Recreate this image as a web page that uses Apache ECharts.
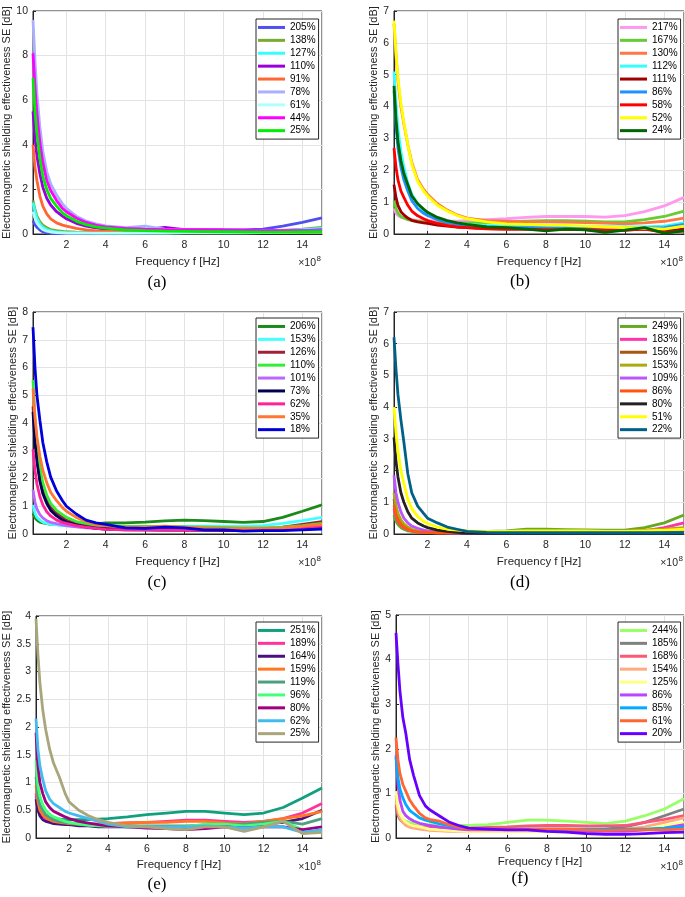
<!DOCTYPE html>
<html><head><meta charset="utf-8">
<script src="https://cdn.jsdelivr.net/npm/echarts@6/dist/echarts.min.js"></script>
<style>html,body{margin:0;padding:0;background:#fff}#c{width:685px;height:897px}</style>
</head><body><div id="c"></div><script>
// Frequency in units of 1e8 Hz
const freq = [0.3, 0.4, 0.5, 0.65, 0.8, 1.0, 1.2, 1.5, 1.8, 2.0, 2.5, 3.0, 3.5, 4, 5, 6, 7, 8, 9, 10, 11, 12, 13, 14, 15];

// (a)
const namesA = ['205%', '138%', '127%', '110%', '91%', '78%', '61%', '44%', '25%'];
const valsA = [
  [0.6, 0.42, 0.3, 0.18, 0.1, 0.05, 0.03, 0.02, 0.02, 0.02, 0.03, 0.04, 0.05, 0.06, 0.08, 0.12, 0.15, 0.18, 0.19, 0.2, 0.18, 0.22, 0.35, 0.52, 0.72],
  [1.5, 1.1, 0.8, 0.55, 0.4, 0.28, 0.2, 0.15, 0.12, 0.1, 0.08, 0.07, 0.06, 0.06, 0.06, 0.07, 0.08, 0.08, 0.09, 0.1, 0.1, 0.12, 0.16, 0.22, 0.3],
  [1.4, 1.0, 0.7, 0.45, 0.3, 0.2, 0.14, 0.1, 0.07, 0.06, 0.05, 0.05, 0.04, 0.04, 0.04, 0.05, 0.05, 0.06, 0.07, 0.08, 0.1, 0.12, 0.15, 0.2, 0.25],
  [5.5, 4.3, 3.5, 2.7, 2.1, 1.6, 1.3, 1.0, 0.8, 0.68, 0.48, 0.35, 0.28, 0.22, 0.2, 0.2, 0.3, 0.2, 0.18, 0.17, 0.15, 0.14, 0.14, 0.15, 0.18],
  [4.0, 3.0, 2.4, 1.7, 1.25, 0.9, 0.68, 0.5, 0.4, 0.35, 0.25, 0.18, 0.14, 0.12, 0.08, 0.07, 0.06, 0.06, 0.06, 0.06, 0.06, 0.06, 0.07, 0.08, 0.1],
  [9.6, 7.8, 6.3, 4.8, 3.7, 2.8, 2.25, 1.75, 1.35, 1.15, 0.8, 0.58, 0.45, 0.36, 0.28, 0.35, 0.22, 0.2, 0.2, 0.18, 0.16, 0.15, 0.15, 0.15, 0.15],
  [1.0, 0.7, 0.5, 0.32, 0.2, 0.13, 0.09, 0.06, 0.05, 0.04, 0.04, 0.04, 0.04, 0.04, 0.04, 0.04, 0.04, 0.05, 0.05, 0.05, 0.05, 0.06, 0.07, 0.08, 0.1],
  [8.1, 6.6, 5.4, 4.1, 3.2, 2.4, 1.95, 1.5, 1.15, 1.0, 0.72, 0.52, 0.4, 0.32, 0.25, 0.22, 0.2, 0.2, 0.2, 0.18, 0.17, 0.15, 0.15, 0.15, 0.15],
  [7.0, 5.5, 4.5, 3.4, 2.6, 2.0, 1.6, 1.25, 0.95, 0.82, 0.58, 0.42, 0.32, 0.26, 0.18, 0.15, 0.13, 0.12, 0.11, 0.1, 0.09, 0.08, 0.08, 0.09, 0.1]
];
const colorsA = ['#5050f0', '#77ac30', '#33ffff', '#9900dd', '#ff6633', '#aab0ff', '#b0ffff', '#ff00ff', '#00ee00'];

// (b)
const namesB = ['217%', '167%', '130%', '112%', '111%', '86%', '58%', '52%', '24%'];
const valsB = [
  [0.8, 0.65, 0.58, 0.52, 0.5, 0.47, 0.45, 0.43, 0.42, 0.42, 0.41, 0.4, 0.4, 0.42, 0.45, 0.48, 0.52, 0.55, 0.55, 0.55, 0.53, 0.58, 0.7, 0.88, 1.15],
  [1.05, 0.8, 0.65, 0.55, 0.5, 0.45, 0.42, 0.4, 0.38, 0.37, 0.35, 0.35, 0.35, 0.35, 0.36, 0.38, 0.4, 0.42, 0.42, 0.4, 0.38, 0.38, 0.45, 0.55, 0.72],
  [6.6, 5.6, 4.8, 4.0, 3.45, 2.8, 2.25, 1.7, 1.4, 1.25, 0.95, 0.75, 0.6, 0.5, 0.42, 0.4, 0.38, 0.38, 0.37, 0.36, 0.34, 0.32, 0.35, 0.4, 0.5],
  [5.1, 4.1, 3.3, 2.6, 2.1, 1.6, 1.25, 0.95, 0.75, 0.65, 0.5, 0.4, 0.33, 0.3, 0.27, 0.25, 0.24, 0.24, 0.24, 0.24, 0.23, 0.22, 0.22, 0.25, 0.35],
  [1.55, 1.15, 0.9, 0.7, 0.6, 0.5, 0.43, 0.38, 0.35, 0.33, 0.28, 0.25, 0.22, 0.2, 0.17, 0.15, 0.15, 0.15, 0.15, 0.14, 0.1, 0.12, 0.15, 0.1, 0.15],
  [4.5, 3.4, 2.7, 2.1, 1.7, 1.35, 1.05, 0.8, 0.65, 0.58, 0.45, 0.36, 0.3, 0.26, 0.22, 0.2, 0.2, 0.2, 0.2, 0.2, 0.18, 0.17, 0.18, 0.2, 0.3],
  [2.7, 2.1, 1.7, 1.35, 1.15, 0.9, 0.72, 0.57, 0.48, 0.42, 0.33, 0.27, 0.22, 0.2, 0.16, 0.15, 0.15, 0.14, 0.14, 0.14, 0.12, 0.12, 0.15, 0.05, 0.1],
  [6.7, 5.7, 4.9, 4.1, 3.5, 2.8, 2.2, 1.65, 1.35, 1.2, 0.9, 0.72, 0.58, 0.48, 0.38, 0.32, 0.3, 0.28, 0.27, 0.25, 0.22, 0.2, 0.18, 0.15, 0.25],
  [4.65, 3.6, 2.9, 2.3, 1.9, 1.55, 1.2, 0.95, 0.78, 0.68, 0.52, 0.42, 0.35, 0.3, 0.22, 0.2, 0.15, 0.1, 0.15, 0.13, 0.05, 0.12, 0.2, 0.03, 0.1]
];
const colorsB = ['#ff99ee', '#66cc33', '#ff7744', '#33ffff', '#a00000', '#1e90ff', '#ff0000', '#ffff00', '#006400'];

// (c)
const namesC = ['206%', '153%', '126%', '110%', '101%', '73%', '62%', '35%', '18%'];
const valsC = [
  [0.75, 0.58, 0.5, 0.43, 0.4, 0.37, 0.35, 0.34, 0.33, 0.33, 0.33, 0.34, 0.36, 0.4, 0.4, 0.43, 0.47, 0.5, 0.48, 0.45, 0.42, 0.45, 0.6, 0.82, 1.05],
  [1.05, 0.75, 0.6, 0.5, 0.43, 0.38, 0.35, 0.33, 0.3, 0.29, 0.27, 0.25, 0.25, 0.25, 0.24, 0.24, 0.25, 0.27, 0.28, 0.27, 0.27, 0.3, 0.38, 0.48, 0.6],
  [4.6, 3.5, 2.8, 2.0, 1.55, 1.2, 0.95, 0.75, 0.6, 0.5, 0.38, 0.3, 0.25, 0.22, 0.2, 0.2, 0.2, 0.18, 0.17, 0.16, 0.16, 0.18, 0.25, 0.35, 0.45],
  [5.55, 4.2, 3.3, 2.4, 1.85, 1.4, 1.1, 0.85, 0.7, 0.6, 0.45, 0.38, 0.32, 0.3, 0.28, 0.27, 0.27, 0.26, 0.25, 0.24, 0.22, 0.22, 0.25, 0.3, 0.38],
  [1.6, 1.15, 0.9, 0.7, 0.58, 0.48, 0.42, 0.37, 0.33, 0.3, 0.26, 0.22, 0.2, 0.18, 0.16, 0.15, 0.15, 0.15, 0.15, 0.15, 0.16, 0.18, 0.2, 0.25, 0.3],
  [4.4, 3.3, 2.6, 1.9, 1.45, 1.1, 0.85, 0.65, 0.5, 0.43, 0.33, 0.26, 0.2, 0.18, 0.15, 0.15, 0.14, 0.14, 0.13, 0.12, 0.12, 0.13, 0.15, 0.18, 0.22],
  [3.05, 2.3, 1.8, 1.35, 1.05, 0.8, 0.65, 0.5, 0.42, 0.38, 0.3, 0.25, 0.2, 0.17, 0.15, 0.15, 0.14, 0.14, 0.14, 0.14, 0.15, 0.15, 0.18, 0.22, 0.28],
  [5.25, 4.2, 3.5, 2.8, 2.3, 1.85, 1.5, 1.2, 0.95, 0.82, 0.6, 0.45, 0.35, 0.3, 0.25, 0.25, 0.28, 0.25, 0.22, 0.2, 0.2, 0.2, 0.22, 0.28, 0.35],
  [7.45, 6.0, 5.0, 4.1, 3.3, 2.6, 2.05, 1.55, 1.2, 1.0, 0.72, 0.5, 0.4, 0.35, 0.22, 0.2, 0.25, 0.22, 0.15, 0.15, 0.1, 0.12, 0.12, 0.15, 0.18]
];
const colorsC = ['#1a8a1a', '#44ffff', '#a0203a', '#33ee33', '#bb66ff', '#000055', '#ff2299', '#ff7733', '#0000dd'];

// (d)
const namesD = ['249%', '183%', '156%', '153%', '109%', '86%', '80%', '51%', '22%'];
const valsD = [
  [0.6, 0.4, 0.3, 0.2, 0.15, 0.1, 0.08, 0.06, 0.05, 0.05, 0.05, 0.05, 0.06, 0.08, 0.08, 0.1, 0.15, 0.15, 0.14, 0.13, 0.12, 0.12, 0.2, 0.35, 0.6],
  [0.8, 0.55, 0.4, 0.28, 0.2, 0.14, 0.1, 0.07, 0.05, 0.05, 0.04, 0.04, 0.04, 0.05, 0.05, 0.06, 0.06, 0.06, 0.06, 0.06, 0.06, 0.06, 0.1, 0.2, 0.35],
  [1.1, 0.75, 0.55, 0.38, 0.27, 0.18, 0.12, 0.08, 0.06, 0.05, 0.04, 0.04, 0.04, 0.05, 0.05, 0.06, 0.07, 0.07, 0.07, 0.07, 0.07, 0.07, 0.08, 0.12, 0.15],
  [1.3, 0.9, 0.65, 0.45, 0.32, 0.22, 0.15, 0.1, 0.07, 0.06, 0.05, 0.05, 0.05, 0.06, 0.07, 0.08, 0.1, 0.1, 0.1, 0.1, 0.1, 0.1, 0.12, 0.15, 0.2],
  [1.85, 1.3, 1.0, 0.7, 0.5, 0.35, 0.25, 0.18, 0.12, 0.1, 0.06, 0.04, 0.03, 0.03, 0.03, 0.04, 0.05, 0.05, 0.05, 0.05, 0.05, 0.05, 0.06, 0.08, 0.1],
  [0.9, 0.6, 0.45, 0.3, 0.22, 0.15, 0.1, 0.07, 0.05, 0.05, 0.04, 0.04, 0.04, 0.05, 0.06, 0.07, 0.08, 0.08, 0.08, 0.08, 0.08, 0.08, 0.1, 0.12, 0.15],
  [3.05, 2.3, 1.8, 1.3, 1.0, 0.7, 0.5, 0.35, 0.25, 0.2, 0.12, 0.08, 0.05, 0.03, 0.02, 0.02, 0.03, 0.03, 0.03, 0.03, 0.03, 0.03, 0.03, 0.03, 0.03],
  [4.0, 3.2, 2.6, 2.0, 1.6, 1.1, 0.8, 0.55, 0.4, 0.33, 0.22, 0.15, 0.12, 0.1, 0.08, 0.08, 0.1, 0.1, 0.1, 0.1, 0.08, 0.08, 0.1, 0.12, 0.15],
  [6.2, 5.2, 4.4, 3.6, 2.9, 1.9, 1.3, 0.88, 0.65, 0.5, 0.35, 0.22, 0.15, 0.08, 0.05, 0.04, 0.04, 0.04, 0.04, 0.04, 0.04, 0.04, 0.04, 0.04, 0.04]
];
const colorsD = ['#66aa22', '#ff33aa', '#aa5511', '#aaaa11', '#bb55ff', '#ff5511', '#222222', '#ffff00', '#006088'];

// (e)
const namesE = ['251%', '189%', '164%', '159%', '119%', '96%', '80%', '62%', '25%'];
const valsE = [
  [0.75, 0.55, 0.45, 0.4, 0.38, 0.36, 0.35, 0.34, 0.33, 0.33, 0.33, 0.33, 0.34, 0.35, 0.38, 0.42, 0.45, 0.48, 0.48, 0.45, 0.42, 0.45, 0.55, 0.72, 0.9],
  [0.8, 0.6, 0.48, 0.4, 0.35, 0.32, 0.3, 0.28, 0.27, 0.26, 0.25, 0.25, 0.25, 0.26, 0.27, 0.28, 0.3, 0.32, 0.32, 0.3, 0.28, 0.3, 0.35, 0.45, 0.62],
  [0.7, 0.5, 0.4, 0.33, 0.3, 0.28, 0.26, 0.25, 0.24, 0.24, 0.22, 0.22, 0.2, 0.2, 0.2, 0.2, 0.2, 0.2, 0.22, 0.22, 0.22, 0.25, 0.28, 0.35, 0.5],
  [0.95, 0.65, 0.5, 0.42, 0.37, 0.33, 0.3, 0.28, 0.27, 0.26, 0.25, 0.25, 0.25, 0.26, 0.27, 0.28, 0.28, 0.3, 0.3, 0.27, 0.26, 0.3, 0.35, 0.4, 0.48],
  [1.1, 0.75, 0.6, 0.5, 0.42, 0.37, 0.33, 0.3, 0.28, 0.27, 0.25, 0.24, 0.23, 0.22, 0.22, 0.22, 0.22, 0.22, 0.23, 0.25, 0.25, 0.28, 0.3, 0.25, 0.35],
  [1.4, 0.95, 0.75, 0.6, 0.5, 0.43, 0.38, 0.34, 0.3, 0.28, 0.25, 0.23, 0.22, 0.21, 0.2, 0.2, 0.19, 0.2, 0.25, 0.25, 0.22, 0.25, 0.3, 0.15, 0.1],
  [1.9, 1.3, 1.0, 0.8, 0.65, 0.55, 0.48, 0.43, 0.38, 0.35, 0.3, 0.27, 0.24, 0.22, 0.2, 0.18, 0.17, 0.15, 0.17, 0.2, 0.18, 0.2, 0.2, 0.15, 0.2],
  [2.15, 1.6, 1.3, 1.05, 0.85, 0.7, 0.62, 0.55, 0.48, 0.45, 0.4, 0.35, 0.3, 0.25, 0.2, 0.2, 0.2, 0.2, 0.22, 0.2, 0.18, 0.2, 0.2, 0.1, 0.15],
  [3.95, 3.3, 2.8, 2.3, 1.95, 1.6, 1.35, 1.1, 0.8, 0.65, 0.5, 0.4, 0.33, 0.28, 0.22, 0.2, 0.17, 0.15, 0.2, 0.2, 0.12, 0.2, 0.3, 0.08, 0.1]
];
const colorsE = ['#10a080', '#ff3399', '#4b1080', '#ff7722', '#4ca080', '#44ff77', '#a00080', '#44bbee', '#a8a67a'];

// (f)
const namesF = ['244%', '185%', '168%', '154%', '125%', '86%', '85%', '61%', '20%'];
const valsF = [
  [0.8, 0.6, 0.5, 0.42, 0.38, 0.35, 0.33, 0.31, 0.3, 0.3, 0.29, 0.28, 0.28, 0.28, 0.3, 0.35, 0.4, 0.4, 0.38, 0.35, 0.32, 0.38, 0.5, 0.65, 0.88],
  [0.7, 0.5, 0.42, 0.35, 0.3, 0.27, 0.25, 0.23, 0.22, 0.21, 0.2, 0.2, 0.2, 0.2, 0.2, 0.2, 0.2, 0.2, 0.2, 0.2, 0.2, 0.25, 0.35, 0.5, 0.65],
  [0.75, 0.55, 0.45, 0.38, 0.33, 0.3, 0.27, 0.25, 0.24, 0.23, 0.22, 0.22, 0.22, 0.22, 0.24, 0.25, 0.27, 0.28, 0.28, 0.27, 0.27, 0.28, 0.35, 0.42, 0.5],
  [0.95, 0.6, 0.45, 0.35, 0.28, 0.24, 0.22, 0.2, 0.18, 0.17, 0.16, 0.15, 0.15, 0.15, 0.15, 0.15, 0.15, 0.15, 0.15, 0.16, 0.17, 0.2, 0.25, 0.35, 0.45],
  [1.05, 0.7, 0.55, 0.43, 0.35, 0.3, 0.27, 0.25, 0.22, 0.2, 0.18, 0.17, 0.16, 0.15, 0.15, 0.15, 0.15, 0.15, 0.15, 0.15, 0.15, 0.15, 0.2, 0.28, 0.35],
  [1.85, 1.2, 0.85, 0.6, 0.5, 0.43, 0.38, 0.33, 0.3, 0.28, 0.25, 0.22, 0.2, 0.18, 0.18, 0.18, 0.18, 0.17, 0.16, 0.15, 0.15, 0.15, 0.18, 0.22, 0.3],
  [1.8, 1.35, 1.1, 0.9, 0.75, 0.62, 0.55, 0.45, 0.4, 0.38, 0.32, 0.28, 0.25, 0.22, 0.2, 0.2, 0.2, 0.2, 0.2, 0.2, 0.2, 0.2, 0.2, 0.22, 0.25],
  [2.25, 1.75, 1.45, 1.2, 1.05, 0.85, 0.72, 0.55, 0.45, 0.42, 0.38, 0.3, 0.25, 0.2, 0.2, 0.2, 0.2, 0.2, 0.2, 0.18, 0.17, 0.18, 0.18, 0.18, 0.2],
  [4.6, 3.9, 3.3, 2.7, 2.35, 1.75, 1.4, 0.95, 0.72, 0.64, 0.5, 0.36, 0.28, 0.22, 0.2, 0.18, 0.18, 0.15, 0.13, 0.1, 0.08, 0.08, 0.1, 0.12, 0.13]
];
const colorsF = ['#99ff66', '#808080', '#ff5577', '#ffaa80', '#ffff88', '#bb44ff', '#00aaff', '#ff6633', '#6600ff'];

const yMaxes = [10, 7, 8, 7, 4, 5];
const yIntervals = [2, 1, 1, 1, 0.5, 1];

const panels = [
  {tag: 'a', names: namesA, vals: valsA, colors: colorsA, left: 33, top: 11, width: 289, height: 223, nameGap: 20, xNameGap: 22, lgLeft: 256, lgTop: 19, tagX: 157, tagY: 283},
  {tag: 'b', names: namesB, vals: valsB, colors: colorsB, left: 394, top: 11, width: 290, height: 223, nameGap: 12.5, xNameGap: 22, lgLeft: 618, lgTop: 19, tagX: 520, tagY: 282},
  {tag: 'c', names: namesC, vals: valsC, colors: colorsC, left: 33, top: 312, width: 289, height: 222, nameGap: 14, xNameGap: 22, lgLeft: 256, lgTop: 318, tagX: 157, tagY: 583},
  {tag: 'd', names: namesD, vals: valsD, colors: colorsD, left: 394, top: 312, width: 290, height: 222, nameGap: 12.5, xNameGap: 22, lgLeft: 618, lgTop: 318, tagX: 520, tagY: 583},
  {tag: 'e', names: namesE, vals: valsE, colors: colorsE, left: 33, top: 616, width: 289, height: 222, nameGap: 24, xNameGap: 21, lgLeft: 256, lgTop: 622, tagX: 157, tagY: 885},
  {tag: 'f', names: namesF, vals: valsF, colors: colorsF, left: 396, top: 615, width: 288, height: 223, nameGap: 14.5, xNameGap: 14, lgLeft: 618, lgTop: 622, tagX: 520, tagY: 879}
];

const AX = '#262626';
const FONT = '"Liberation Sans", Arial, Helvetica, sans-serif';
const SERIF = '"Liberation Serif", "Times New Roman", serif';

const option = {
  animation: false,
  backgroundColor: '#fff',
  textStyle: {fontFamily: FONT},
  grid: [], xAxis: [], yAxis: [], legend: [], series: [], graphic: []
};

panels.forEach((p, i) => {
  option.grid.push({left: p.left, top: p.top, width: p.width, height: p.height,
    show: true, borderColor: AX, borderWidth: 1, backgroundColor: '#fff', containLabel: false});
  option.xAxis.push({
    type: 'value', gridIndex: i, min: freq[0], max: freq[freq.length - 1],
    splitNumber: 7, minInterval: 2, maxInterval: 2,
    name: 'Frequency f [Hz]', nameLocation: 'middle', nameGap: p.xNameGap,
    nameTextStyle: {fontSize: 11.5, color: AX, fontFamily: FONT},
    axisLine: {show: true, onZero: false, lineStyle: {color: AX, width: 1}},
    axisTick: {show: true, inside: true, length: 3, lineStyle: {color: AX}},
    axisLabel: {fontSize: 10.5, color: AX, margin: 6, showMinLabel: false, showMaxLabel: false, fontFamily: FONT},
    splitLine: {show: true, lineStyle: {color: '#e3e3e3', width: 1}}
  });
  option.yAxis.push({
    type: 'value', gridIndex: i, min: 0, max: yMaxes[i], interval: yIntervals[i],
    name: 'Electromagnetic shielding effectiveness SE [dB]', nameLocation: 'middle', nameGap: p.nameGap,
    nameTextStyle: {fontSize: 11, color: AX, fontFamily: FONT},
    axisLine: {show: true, lineStyle: {color: AX, width: 1}},
    axisTick: {show: true, inside: true, length: 3, lineStyle: {color: AX}},
    axisLabel: {fontSize: 10.5, color: AX, margin: 5, fontFamily: FONT},
    splitLine: {show: true, lineStyle: {color: '#e3e3e3', width: 1}}
  });
  option.legend.push({
    orient: 'vertical', left: p.lgLeft, top: p.lgTop,
    data: p.names.map(n => p.tag + ':' + n),
    formatter: n => n.split(':')[1],
    icon: 'rect', itemWidth: 27, itemHeight: 3, itemGap: 0, itemTextGap: 2,
    textStyle: {fontSize: 10, color: '#000', lineHeight: 12.9, fontFamily: FONT},
    backgroundColor: '#fff', borderColor: AX, borderWidth: 1, padding: [2, 3, 2, 2],
    selectedMode: false
  });
  p.names.forEach((n, k) => {
    option.series.push({
      type: 'line', name: p.tag + ':' + n, xAxisIndex: i, yAxisIndex: i,
      data: freq.map((f, j) => [f, p.vals[k][j]]),
      showSymbol: false, symbol: 'none', color: p.colors[k],
      lineStyle: {width: 2.8, color: p.colors[k]}, clip: true, z: 2
    });
  });
  const right = p.left + p.width;
  const axisBottom = p.top + p.height;
  option.graphic.push({type: 'text', x: right - 6, y: axisBottom + 29,
    style: {text: '×10', fontSize: 10.5, fill: AX, fontFamily: FONT, textAlign: 'right', textVerticalAlign: 'middle'}});
  option.graphic.push({type: 'text', x: right - 5.5, y: axisBottom + 25,
    style: {text: '8', fontSize: 8, fill: AX, fontFamily: FONT, textAlign: 'left', textVerticalAlign: 'middle'}});
  option.graphic.push({type: 'text', x: p.tagX, y: p.tagY,
    style: {text: '(' + p.tag + ')', fontSize: 17, fill: '#000', fontFamily: SERIF, textAlign: 'center', textVerticalAlign: 'middle'}});
});

const chart = echarts.init(document.getElementById('c'), null, {renderer: 'canvas'});
chart.setOption(option);
</script></body></html>
